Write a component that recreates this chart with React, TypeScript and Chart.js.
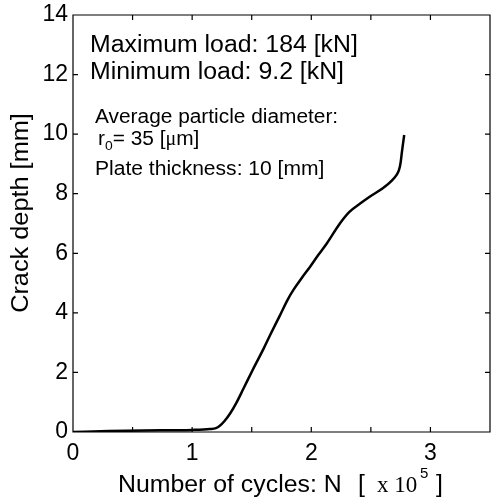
import React, { useEffect, useRef } from "react";
import { Chart, registerables } from "chart.js";

Chart.register(...registerables);

// Crack growth curve: number of cycles (x 10^5) vs crack depth (mm)
const cycles = [0, 0.3, 0.6, 1.0, 1.15, 1.2, 1.23, 1.27, 1.32, 1.37, 1.43, 1.51, 1.6, 1.66, 1.735, 1.8, 1.85, 1.92, 1.99, 2.06, 2.13, 2.24, 2.32, 2.41, 2.49, 2.6, 2.68, 2.71, 2.735, 2.75, 2.76, 2.77, 2.78];
const depth = [0, 0.03, 0.05, 0.07, 0.1, 0.13, 0.2, 0.36, 0.63, 0.97, 1.45, 2.1, 2.8, 3.3, 3.9, 4.43, 4.77, 5.17, 5.55, 5.95, 6.33, 7.0, 7.39, 7.67, 7.9, 8.18, 8.46, 8.6, 8.78, 9.05, 9.38, 9.68, 9.97];

const xMin = 0;
const xMax = 3.5;
const xTickStep = 0.5;
const yMin = 0;
const yMax = 14;
const yTickStep = 2;

const loadLines = ["Maximum load: 184 [kN]", "Minimum load: 9.2 [kN]"];
const particleLine = "Average particle diameter:";
const radiusLine = { symbol: "r", sub: "0", value: "= 35 [", unitMu: "\u03bc", unitRest: "m]" };
const thicknessLine = "Plate thickness: 10 [mm]";
const xTitle = "Number of cycles: N";
const yTitle = "Crack depth [mm]";

const SANS = "'Liberation Sans', Arial, Helvetica, sans-serif";
const SERIF = "'Liberation Serif', 'Times New Roman', serif";

function stretchedText(
  ctx: CanvasRenderingContext2D,
  text: string,
  x: number,
  y: number,
  font: string,
  sx: number
): number {
  ctx.save();
  ctx.font = font;
  ctx.textAlign = "left";
  ctx.textBaseline = "alphabetic";
  ctx.translate(x, y);
  ctx.scale(sx, 1);
  ctx.fillText(text, 0, 0);
  const w = ctx.measureText(text).width * sx;
  ctx.restore();
  return x + w;
}

const framePlugin = {
  id: "frame",
  afterDraw(chart: any) {
    const ctx: CanvasRenderingContext2D = chart.ctx;
    const xs = chart.scales.x;
    const ys = chart.scales.y;
    const L = xs.getPixelForValue(xMin);
    const R = xs.getPixelForValue(xMax);
    const T = ys.getPixelForValue(yMax);
    const B = ys.getPixelForValue(yMin);
    const tick = 5;

    ctx.save();
    ctx.strokeStyle = "#000";
    ctx.lineWidth = 1.2;
    ctx.beginPath();
    // axes box
    ctx.rect(L, T, R - L, B - T);
    // inward tick marks on all four sides
    for (let v = xMin; v <= xMax + 1e-9; v += xTickStep) {
      const px = xs.getPixelForValue(v);
      ctx.moveTo(px, B);
      ctx.lineTo(px, B - tick);
      ctx.moveTo(px, T);
      ctx.lineTo(px, T + tick);
    }
    for (let v = yMin; v <= yMax + 1e-9; v += yTickStep) {
      const py = ys.getPixelForValue(v);
      ctx.moveTo(L, py);
      ctx.lineTo(L + tick, py);
      ctx.moveTo(R, py);
      ctx.lineTo(R - tick, py);
    }
    ctx.stroke();

    ctx.fillStyle = "#000";
    const sx = 1.08;

    // text block inside the plot
    stretchedText(ctx, loadLines[0], 90, 52, `23px ${SANS}`, sx);
    stretchedText(ctx, loadLines[1], 90, 79, `23px ${SANS}`, sx);
    stretchedText(ctx, particleLine, 95, 123, `19.5px ${SANS}`, 1.07);
    let cx = stretchedText(ctx, radiusLine.symbol, 98, 145, `19.5px ${SANS}`, 1.07);
    cx = stretchedText(ctx, radiusLine.sub, cx, 150, `13px ${SANS}`, 1.07);
    cx = stretchedText(ctx, radiusLine.value, cx, 145, `19.5px ${SANS}`, 1.07);
    cx = stretchedText(ctx, radiusLine.unitMu, cx, 145, `20px ${SERIF}`, 1.0);
    stretchedText(ctx, radiusLine.unitRest, cx, 145, `19.5px ${SANS}`, 1.07);
    stretchedText(ctx, thicknessLine, 95, 175, `19.5px ${SANS}`, 1.08);

    // x-axis title with the power-of-ten multiplier
    stretchedText(ctx, xTitle, 118, 492, `23px ${SANS}`, sx);
    stretchedText(ctx, "[", 358, 492, `23px ${SANS}`, sx);
    stretchedText(ctx, "x 10", 377, 492, `23px ${SERIF}`, 1.0);
    stretchedText(ctx, "5", 420, 478, `15px ${SANS}`, 1.0);
    stretchedText(ctx, "]", 436, 492, `23px ${SANS}`, sx);

    // y-axis title
    ctx.font = `23px ${SANS}`;
    ctx.textAlign = "center";
    ctx.textBaseline = "alphabetic";
    ctx.translate(28, 213);
    ctx.rotate(-Math.PI / 2);
    ctx.scale(1.1, 1);
    ctx.fillText(yTitle, 0, 0);

    ctx.restore();
  },
};

export default function App() {
  const canvasRef = useRef<HTMLCanvasElement | null>(null);

  useEffect(() => {
    const canvas = canvasRef.current;
    if (!canvas) return;
    const points = cycles.map((c, i) => ({ x: c, y: depth[i] }));
    const chart = new Chart(canvas, {
      type: "line",
      data: {
        datasets: [
          {
            data: points,
            borderColor: "#000",
            borderWidth: 2.5,
            pointRadius: 0,
            fill: false,
            cubicInterpolationMode: "monotone",
          },
        ],
      },
      options: {
        animation: false,
        responsive: false,
        devicePixelRatio: 1,
        layout: { padding: { left: 0, right: 3, top: 15, bottom: 0 } },
        plugins: {
          legend: { display: false },
          tooltip: { enabled: false },
        },
        scales: {
          x: {
            type: "linear",
            min: xMin,
            max: xMax,
            grid: { display: false, drawTicks: false },
            border: { display: false },
            ticks: {
              stepSize: xTickStep,
              autoSkip: false,
              maxRotation: 0,
              padding: 8,
              color: "#000",
              font: { family: SANS, size: 23 },
              callback: (v: any) => (Number.isInteger(Number(v)) ? String(v) : ""),
            },
            afterFit: (scale: any) => {
              scale.height = 70;
              scale.paddingLeft = 0;
              scale.paddingRight = 0;
            },
          },
          y: {
            type: "linear",
            min: yMin,
            max: yMax,
            grid: { display: false, drawTicks: false },
            border: { display: false },
            ticks: {
              stepSize: yTickStep,
              padding: 5,
              color: "#000",
              font: { family: SANS, size: 23 },
            },
            afterFit: (scale: any) => {
              scale.width = 73;
              scale.paddingTop = 0;
              scale.paddingBottom = 0;
            },
          },
        },
      },
      plugins: [framePlugin],
    });
    return () => chart.destroy();
  }, []);

  return (
    <div style={{ position: "fixed", left: 0, top: 0, width: 493, height: 502, background: "#fff" }}>
      <canvas ref={canvasRef} width={493} height={502} style={{ display: "block" }} />
    </div>
  );
}
